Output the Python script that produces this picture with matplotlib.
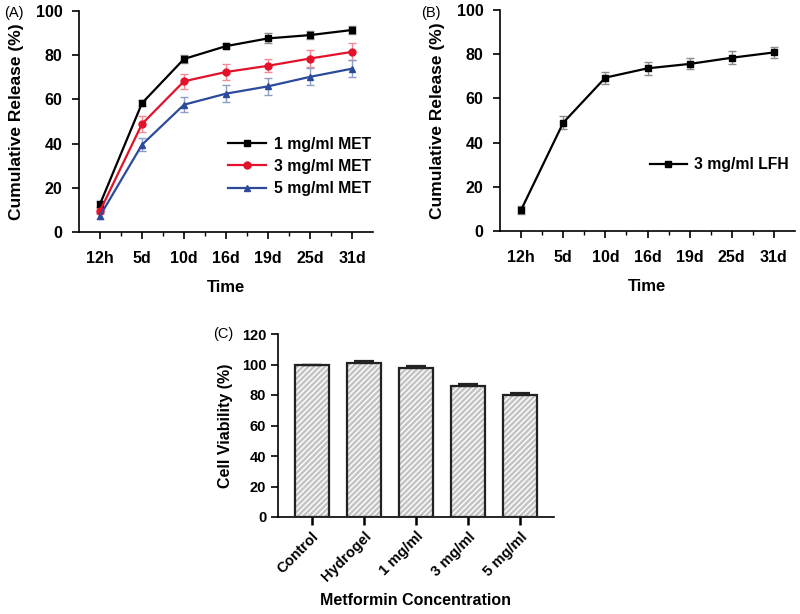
import numpy as np
import matplotlib
matplotlib.use("Agg")
import matplotlib.pyplot as plt
import matplotlib as mpl

mpl.rcParams['font.family'] = ['Liberation Sans', 'DejaVu Sans']
mpl.rcParams['font.weight'] = 'bold'
mpl.rcParams['axes.linewidth'] = 1.2
mpl.rcParams['axes.spines.top'] = False
mpl.rcParams['axes.spines.right'] = False

# Release data (panels A and B)
time_labels = ["12h", "5d", "10d", "16d", "19d", "25d", "31d"]

met_1 = [12.6, 58.3, 78.3, 84.1, 87.6, 89.1, 91.4]
met_1_err = [1.3, 1.5, 1.7, 1.3, 2.3, 1.8, 1.6]
met_3 = [9.5, 48.9, 68.2, 72.4, 75.2, 78.5, 81.5]
met_3_err = [1.5, 3.8, 3.3, 3.4, 3.0, 3.8, 3.8]
met_5 = [7.3, 39.5, 57.6, 62.6, 65.9, 70.2, 73.9]
met_5_err = [1.5, 3.0, 3.4, 3.8, 3.8, 3.8, 3.8]

lfh_3 = [9.5, 49.0, 69.4, 73.6, 75.6, 78.4, 80.8]
lfh_3_err = [2.0, 3.0, 2.7, 3.0, 2.5, 3.0, 2.5]

# Cell viability (panel C)
groups = ["Control", "Hydrogel", "1 mg/ml", "3 mg/ml", "5 mg/ml"]
viability = [100.0, 101.2, 97.7, 85.7, 79.8]
viability_err = [0.0, 1.3, 1.5, 1.2, 1.5]

W, H = 800, 614
fig = plt.figure(figsize=(W / 100, H / 100), dpi=100)


def px_axes(left, top, right, bottom):
    return fig.add_axes([left / W, 1 - bottom / H, (right - left) / W, (bottom - top) / H])


def style_release(ax):
    x = np.arange(len(time_labels))
    ax.set_xlim(-0.5, 6.5)
    ax.set_ylim(0, 100)
    ax.set_xticks(x)
    ax.set_xticklabels(time_labels)
    ax.set_xticks(np.arange(0.5, 6, 1), minor=True)
    ax.set_yticks(range(0, 101, 20))
    ax.tick_params(axis='both', which='major', labelsize=11.5, length=5, width=1.2)
    ax.tick_params(axis='y', which='major', pad=7)
    ax.tick_params(axis='x', which='major', pad=9)
    ax.tick_params(axis='x', which='minor', length=3, width=1.0)
    ax.set_ylabel("Cumulative Release (%)", fontsize=12.5, fontweight='bold', labelpad=8)
    ax.set_xlabel("Time", fontsize=12, fontweight='bold', labelpad=10)
    return x


# Panel A
axA = px_axes(79, 11, 373, 232)
x = style_release(axA)
series = [
    (met_1, met_1_err, 'black', '#8c8c8c', 's', "1 mg/ml MET"),
    (met_3, met_3_err, '#E3122B', '#F08A95', 'o', "3 mg/ml MET"),
    (met_5, met_5_err, '#2B4A9B', '#8E9CC8', '^', "5 mg/ml MET"),
]
for vals, errs, color, ecolor, marker, label in series:
    axA.errorbar(x, vals, yerr=errs, fmt='none', ecolor=ecolor, elinewidth=1.0,
                 capsize=3, capthick=1.0, zorder=2)
    axA.plot(x, vals, color=color, marker=marker, markersize=5, linewidth=1.6,
             label=label, zorder=3)
axA.legend(loc='upper left', bbox_to_anchor=(0.47, 0.48), frameon=False, fontsize=11.3,
           handlelength=2.4, handletextpad=0.5, labelspacing=0.45, borderpad=0.2)
fig.text(4 / W, 1 - 13 / H, "(A)", fontsize=10.5, fontweight='normal', va='center')

# Panel B
axB = px_axes(500, 10, 795, 231)
x = style_release(axB)
axB.errorbar(x, lfh_3, yerr=lfh_3_err, fmt='none', ecolor='#8c8c8c', elinewidth=1.0,
             capsize=3, capthick=1.0, zorder=2)
axB.plot(x, lfh_3, color='black', marker='s', markersize=5, linewidth=1.6,
         label="3 mg/ml LFH", zorder=3)
axB.legend(loc='center left', bbox_to_anchor=(0.47, 0.30), frameon=False, fontsize=11.3,
           handlelength=2.4, handletextpad=0.4, borderpad=0.2)
fig.text(421 / W, 1 - 13 / H, "(B)", fontsize=10.5, fontweight='normal', va='center')

# Panel C
axC = px_axes(278, 334, 554, 517)
xc = np.arange(len(groups))
axC.bar(xc, viability, width=0.65, color='#c4c4c4', edgecolor='white', hatch='//////',
        linewidth=0, zorder=2)
axC.bar(xc, viability, width=0.65, fill=False, edgecolor='#222222', linewidth=1.6, zorder=3)
axC.errorbar(xc, viability, yerr=[np.zeros(len(viability)), viability_err], fmt='none',
             ecolor='#222222', elinewidth=1.6, capsize=7, capthick=1.6, zorder=4)
axC.set_xlim(-0.65, 4.65)
axC.set_ylim(0, 120)
axC.set_yticks(range(0, 121, 20))
axC.set_xticks(xc)
axC.set_xticklabels(groups, rotation=45, ha='right', rotation_mode='anchor')
axC.tick_params(axis='y', labelsize=10.5, length=5, width=1.2)
axC.tick_params(axis='x', labelsize=10.5, length=6, width=1.8, pad=3)
axC.set_ylabel("Cell Viability (%)", fontsize=11.5, fontweight='bold', labelpad=6)
axC.set_xlabel("Metformin Concentration", fontsize=11.5, fontweight='bold', labelpad=6)
fig.text(213 / W, 1 - 334 / H, "(C)", fontsize=10.5, fontweight='normal', va='center')

fig.savefig("out.png", dpi=100)
